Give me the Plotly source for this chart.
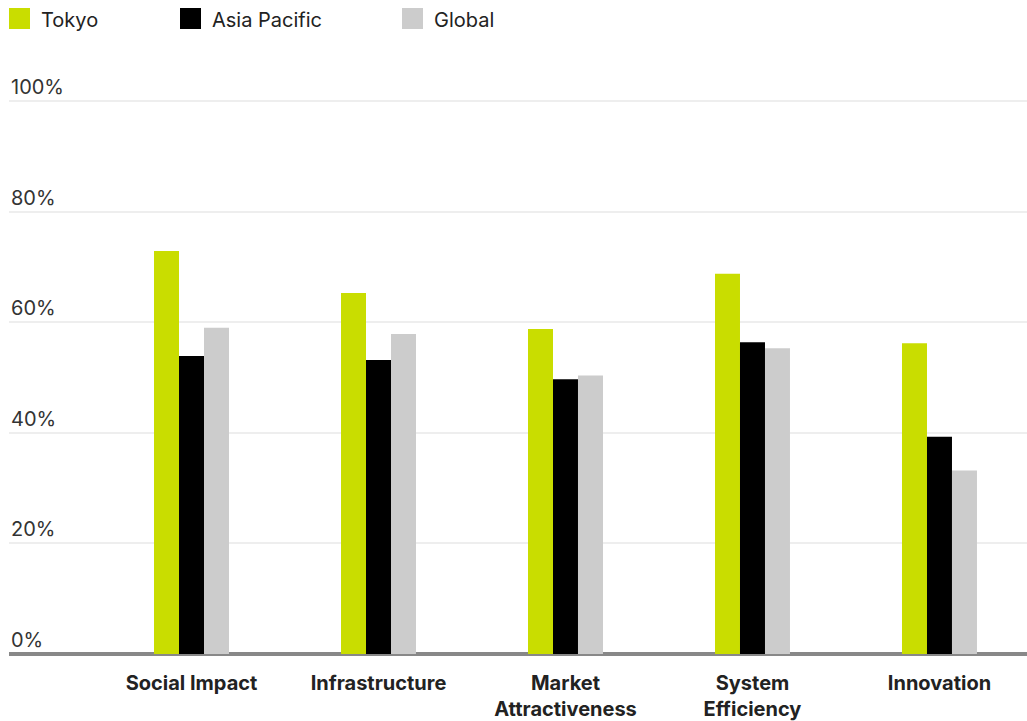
import plotly.graph_objects as go

categories = ["Social Impact", "Infrastructure", "Market<br>Attractiveness",
              "System<br>Efficiency", "Innovation"]
tokyo = [72.9, 65.3, 58.8, 68.8, 56.2]
asia_pacific = [53.9, 53.2, 49.7, 56.4, 39.3]
global_avg = [59.0, 57.9, 50.4, 55.3, 33.2]

series_names = ["Tokyo", "Asia Pacific", "Global"]
series_colors = ["#C9DD00", "#000000", "#CCCCCC"]
series_values = [tokyo, asia_pacific, global_avg]

y_ticks = [0, 20, 40, 60, 80, 100]
y_tick_text = [f"{v}%" for v in y_ticks]

W, H = 1027, 721
M_L, M_R, M_T, M_B = 9, 0, 99, 67
PLOT_W, PLOT_H = W - M_L - M_R, H - M_T - M_B
FONT = "Inter"


def px_to_paper(x_px, y_px):
    return (x_px - M_L) / PLOT_W, (H - M_B - y_px) / PLOT_H


fig = go.Figure()
for name, color, vals in zip(series_names, series_colors, series_values):
    fig.add_trace(go.Bar(
        x=categories, y=vals, name=name, marker_color=color,
        marker_line_width=0, showlegend=False,
    ))

shapes, annotations = [], []

# Custom legend: large square swatches followed by labels
legend_x = [9, 180, 402]
for name, color, lx in zip(series_names, series_colors, legend_x):
    x0, y1 = px_to_paper(lx, 8)
    x1, y0 = px_to_paper(lx + 21, 29)
    shapes.append(dict(type="rect", xref="paper", yref="paper",
                       x0=x0, x1=x1, y0=y0, y1=y1,
                       fillcolor=color, line_width=0))
    tx, ty = px_to_paper(lx + 30, 20)
    annotations.append(dict(text=name, xref="paper", yref="paper",
                            x=tx, y=ty, xanchor="left", yanchor="middle",
                            showarrow=False,
                            font=dict(family=FONT, size=20, color="#222222")))

# Y tick labels sit just above their gridlines, flush with the left edge
for v, label in zip(y_ticks, y_tick_text):
    annotations.append(dict(text=label, xref="paper", yref="y",
                            x=0, y=v, xanchor="left", yanchor="bottom",
                            showarrow=False, yshift=0,
                            font=dict(family=FONT, size=20, color="#333333")))

fig.update_layout(
    width=W, height=H,
    margin=dict(l=M_L, r=M_R, t=M_T, b=M_B, autoexpand=False),
    paper_bgcolor="white", plot_bgcolor="white",
    barmode="group", bargap=0.599, bargroupgap=0,
    shapes=shapes, annotations=annotations,
    font=dict(family=FONT, color="#222222"),
)
fig.update_xaxes(
    range=[-0.976, 4.468], showgrid=False, showline=False, automargin=False,
    ticks="outside", ticklen=11, tickcolor="rgba(0,0,0,0)",
    tickfont=dict(family=FONT, size=20, color="#222222", weight="bold"),
)
fig.update_yaxes(
    range=[0, 100.4], tickvals=y_ticks, showticklabels=False, automargin=False,
    ticks="",
    showgrid=True, gridcolor="#EEEEEE", gridwidth=2,
    zeroline=True, zerolinecolor="#888888", zerolinewidth=4,
    showline=False,
)

fig.write_html("out.html")
